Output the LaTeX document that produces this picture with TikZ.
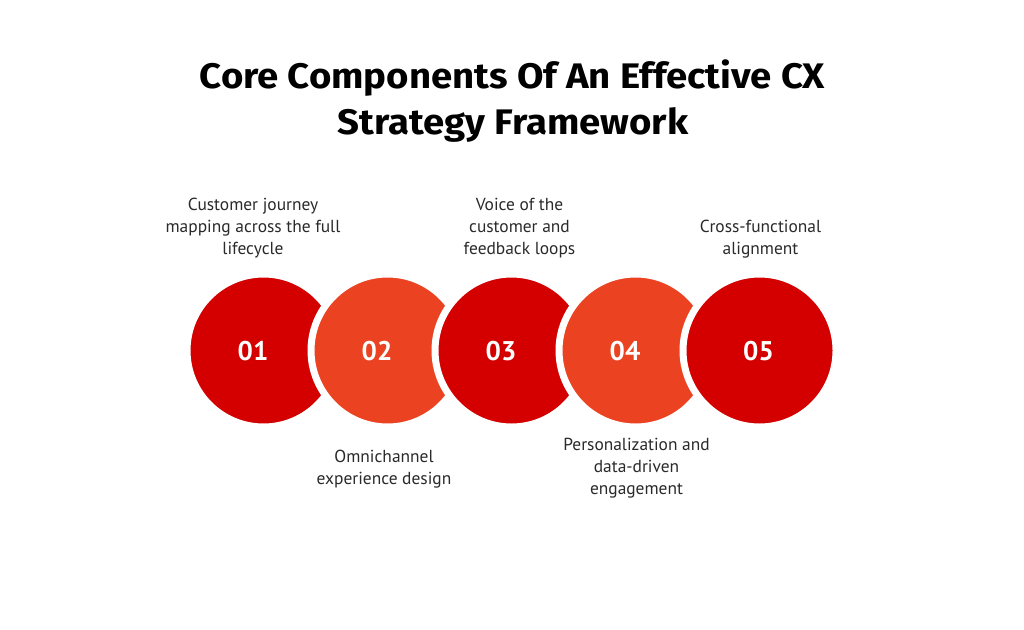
\documentclass[tikz,border=0pt]{standalone}
\usepackage{fontspec}
\setmainfont{PT Sans}
\newfontfamily\titlefont[FakeStretch=1.08]{Fira Sans}
\definecolor{cxred}{HTML}{D40000}
\definecolor{cxorange}{HTML}{EB4321}
\definecolor{cxtext}{HTML}{2A2A2A}
\begin{document}
\begin{tikzpicture}[x=1pt,y=-1pt,
  disc/.style={circle,minimum size=153pt,inner sep=0pt,draw=white,line width=7pt},
  numlabel/.style={font=\fontsize{27}{27}\selectfont\bfseries,text=white,anchor=base,inner sep=0pt},
  desc/.style={font=\fontsize{17.4}{22}\selectfont,text=cxtext,align=center,anchor=base,inner sep=0pt},
  titleline/.style={font=\titlefont\fontsize{35.5}{44}\selectfont\bfseries,text=black,anchor=base,inner sep=0pt}]
\useasboundingbox (0,0) rectangle (1024,629);
\fill[white] (0,0) rectangle (1024,629);
% title
\node[titleline] (t1) at (512.5,88.3) {Core Components Of An Effective CX};
\node[titleline] (t2) at (513,134.3) {Strategy Framework};
% discs
\node[disc,fill=cxred] (c1) at (263.5,350.5) {};
\node[disc,fill=cxorange] (c2) at (387.5,350.5) {};
\node[disc,fill=cxred] (c3) at (511.5,350.5) {};
\node[disc,fill=cxorange] (c4) at (635.5,350.5) {};
\node[disc,fill=cxred] (c5) at (759.5,350.5) {};
% numbers
\node[numlabel] (n1) at (253,360.7) {01};
\node[numlabel] (n2) at (377,360.7) {02};
\node[numlabel] (n3) at (501,360.7) {03};
\node[numlabel] (n4) at (625,360.7) {04};
\node[numlabel] (n5) at (758.5,360.7) {05};
% descriptions (anchor = baseline of last line)
\node[desc] (d1) at (253,254.3) {Customer journey\\mapping across the full\\lifecycle};
\node[desc] (d3) at (519.5,254.3) {Voice of the\\customer and\\feedback loops};
\node[desc] (d5) at (760.5,254.3) {Cross-functional\\alignment};
\node[desc] (d2) at (384,484) {Omnichannel\\experience design};
\node[desc] (d4) at (636.5,494.3) {Personalization and\\data-driven\\engagement};
\end{tikzpicture}
\end{document}
